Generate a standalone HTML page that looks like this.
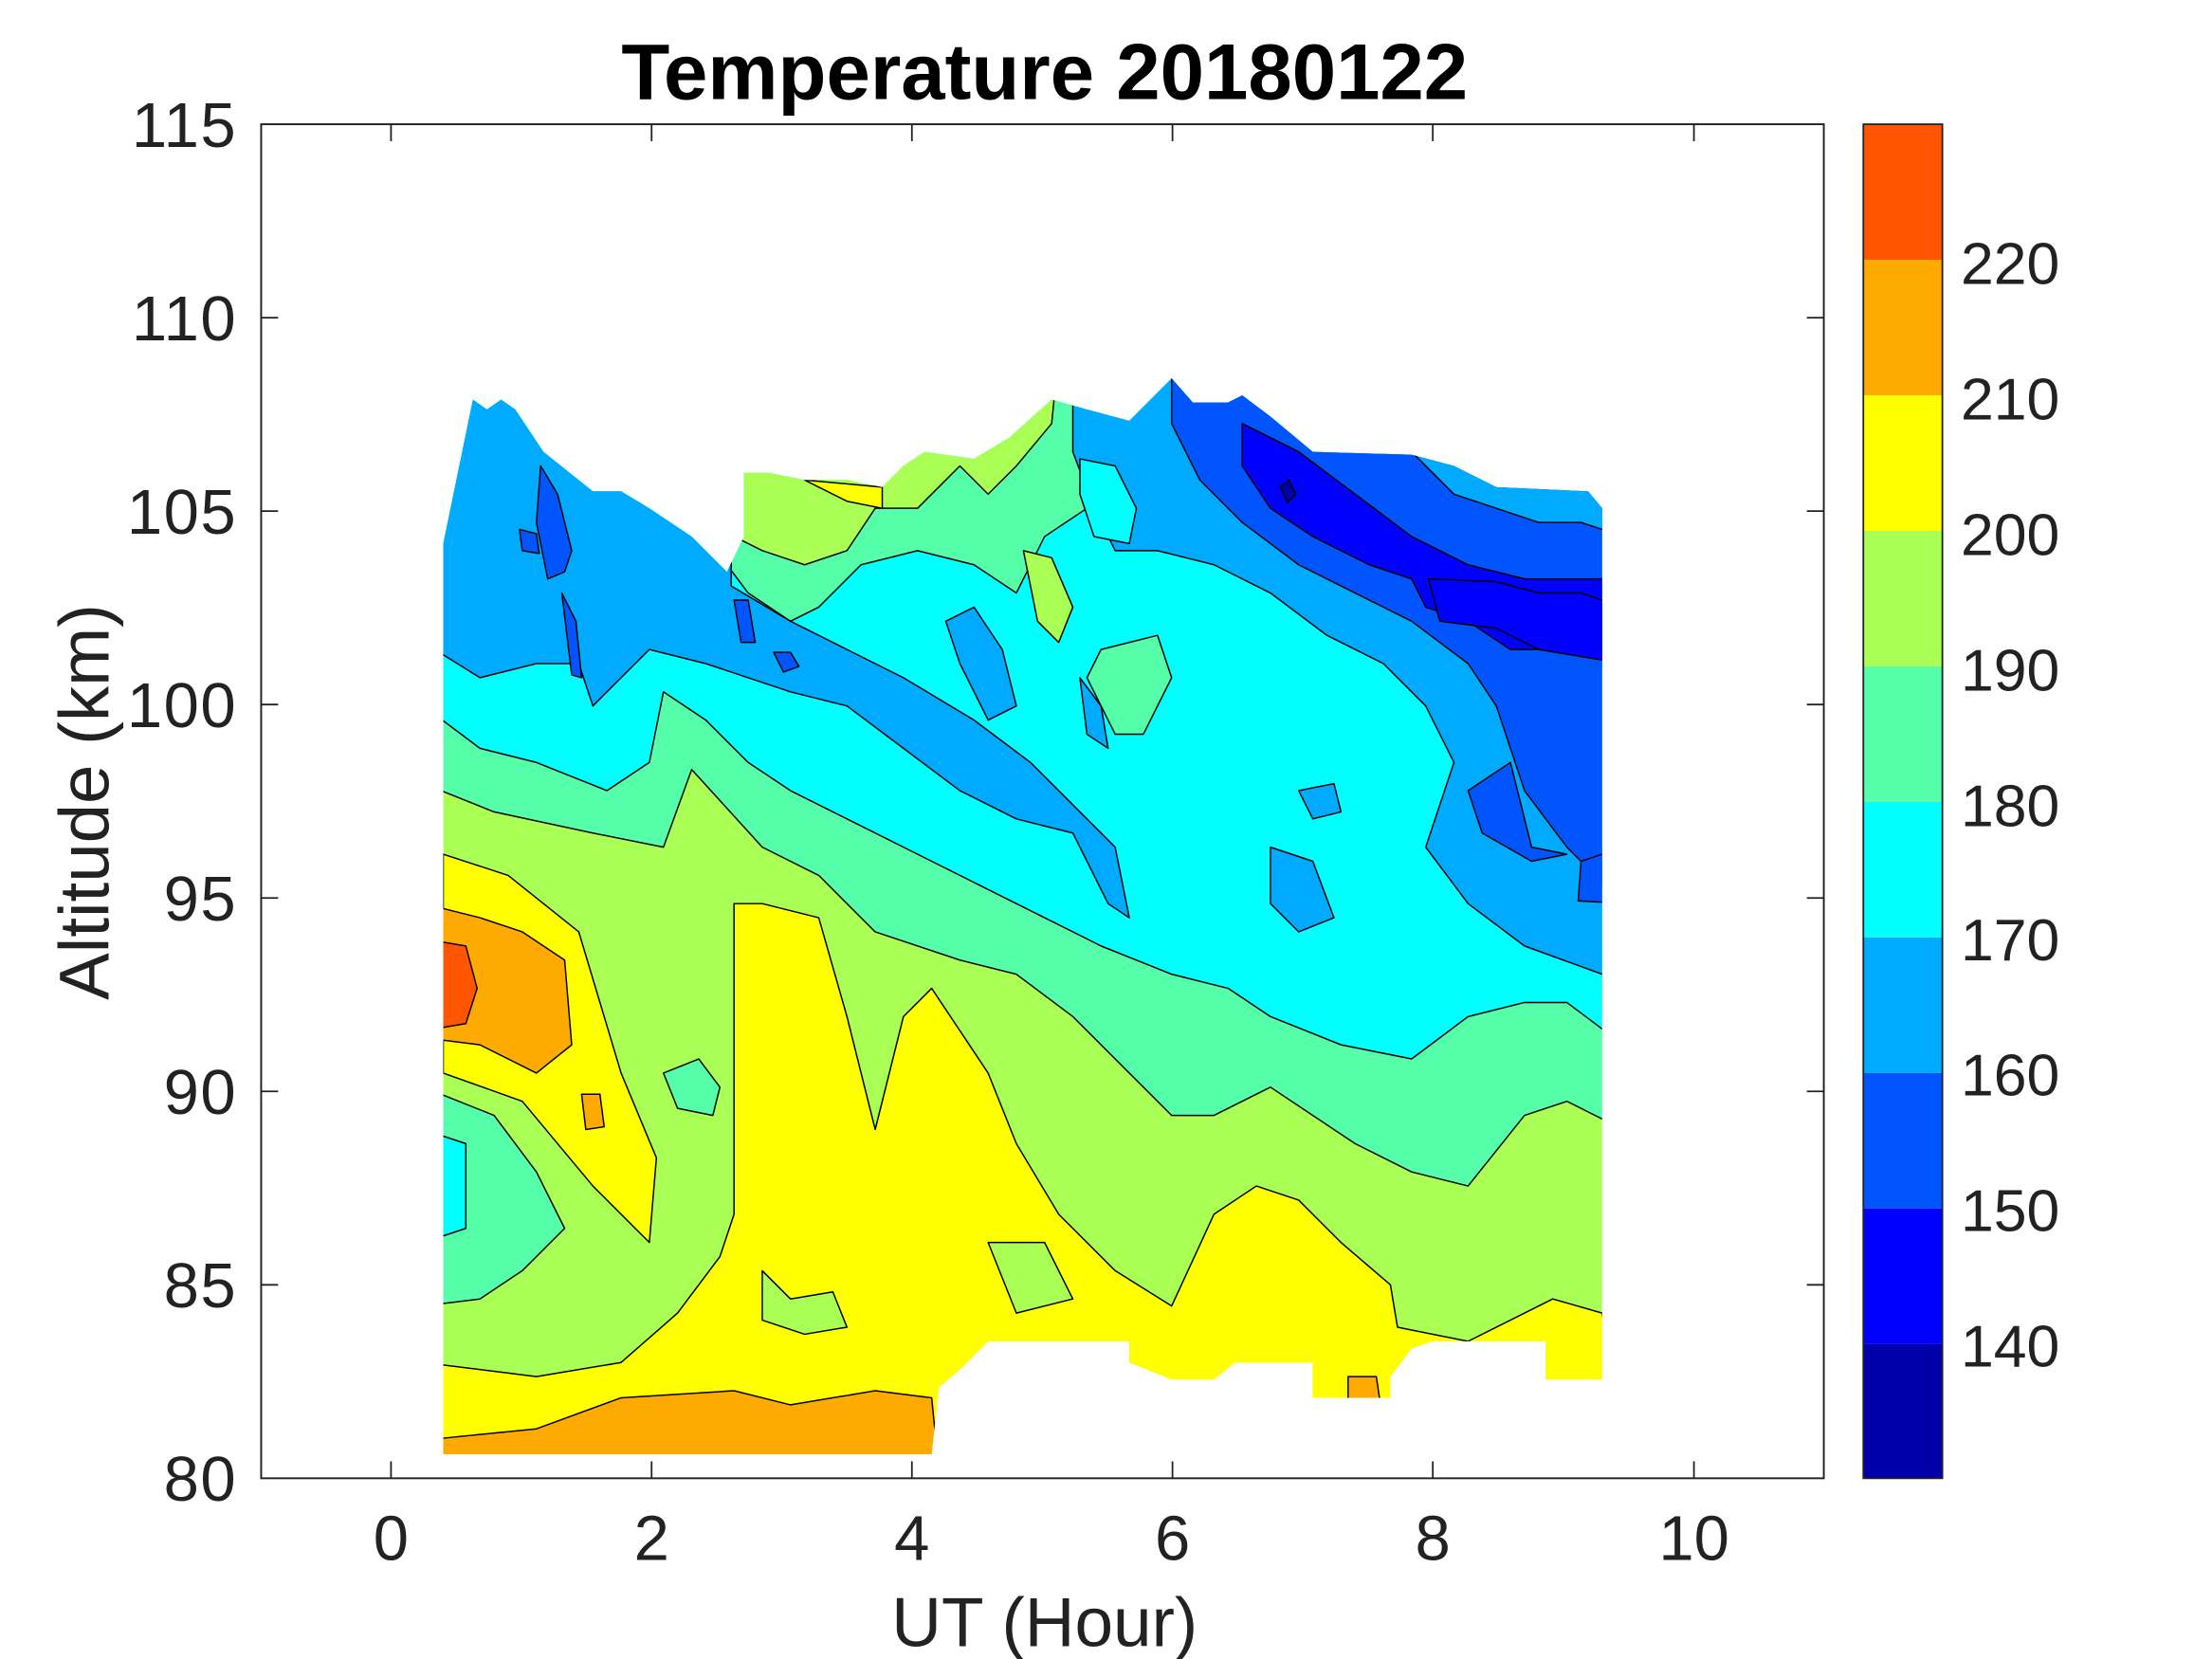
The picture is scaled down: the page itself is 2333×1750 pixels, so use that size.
<!DOCTYPE html>
<html><head><meta charset="utf-8"><style>
html,body{margin:0;padding:0;background:#fff;}
svg{display:block;}
text{font-family:"Liberation Sans",Arial,sans-serif;fill:#222;}
</style></head><body>
<svg width="2333" height="1750" viewBox="0 0 1567 1175" preserveAspectRatio="none" xmlns="http://www.w3.org/2000/svg">
<defs>
<clipPath id="dc"><polygon points="314,385 335,283 345,290 355,283 365,290 385,320 420,348 440,348 460,360 490,380 515,405 527,380 527,335 545,335 570,340 600,340 625,345 640,330 655,320 690,325 715,310 745,283 770,290 800,298 830,268 845,285 870,285 880,280 900,295 930,320 1000,322 1030,330 1060,345 1125,348 1135,360 1135,977 1095,977 1095,950 1015,950 1000,955 985,975 985,990 930,990 930,965 875,965 860,977 830,977 800,965 800,950 700,950 680,970 665,983 660,1030 314,1030"/></clipPath>
</defs>
<g clip-path="url(#dc)" stroke="#000" stroke-width="1" stroke-linejoin="round">
<rect x="300" y="250" width="850" height="800" fill="#AAFF55" stroke="none"/>
<polygon fill="#FFFF00" points="314,605 360,620 410,660 440,760 465,820 460,880 420,840 370,780 314,760"/>
<polygon fill="#FFFF00" points="300,965 380,975 440,965 480,930 510,890 520,860 520,640 540,640 580,650 600,720 620,800 640,720 660,700 680,730 700,760 720,810 750,860 790,900 830,925 860,860 890,840 920,850 950,880 985,910 990,940 1040,950 1100,920 1135,930 1150,1040 300,1040"/>
<polygon fill="#AAFF55" points="540,900 560,920 590,915 600,940 570,945 540,935"/>
<polygon fill="#AAFF55" points="700,880 740,880 760,920 720,930"/>
<polygon fill="#FFAA00" points="300,640 340,650 370,660 400,680 405,740 380,760 340,740 300,735"/>
<polygon fill="#FF5500" points="300,665 330,670 338,700 330,725 300,730"/>
<polygon fill="#FFAA00" points="300,1020 380,1012 440,990 520,985 560,995 620,985 660,990 665,1040 300,1040"/>
<polygon fill="#FFAA00" points="412,775 425,775 428,798 415,800"/>
<polygon fill="#FFAA00" points="955,975 975,975 978,995 955,995"/>
<polygon fill="#55FFAA" points="300,770 350,790 380,830 400,870 370,900 340,920 300,925"/>
<polygon fill="#00FFFF" points="300,800 330,810 330,870 300,880"/>
<polygon fill="#55FFAA" points="470,760 495,750 510,770 505,790 480,785"/>
<polygon fill="#55FFAA" points="300,555 350,575 420,590 470,600 490,545 540,600 580,620 620,660 680,680 720,690 760,720 800,760 830,790 860,790 900,770 930,790 960,810 1000,830 1040,840 1080,790 1110,780 1150,800 1150,250 300,250"/>
<polygon fill="#00FFFF" points="300,500 340,530 380,540 430,560 460,540 470,490 500,510 530,540 560,560 600,580 640,600 700,630 740,650 780,670 830,690 870,700 900,720 950,740 1000,750 1040,720 1080,710 1110,710 1150,740 1150,250 300,250"/>
<polygon fill="#55FFAA" points="515,250 765,250 770,360 740,380 720,420 690,400 650,390 610,400 580,430 560,440 530,420 515,400"/>
<polygon fill="#AAFF55" points="515,250 750,250 745,300 720,330 700,350 680,330 650,360 620,360 600,390 570,400 540,390 520,380"/>
<polygon fill="#FFFF00" points="570,340 625,345 625,360 600,355"/>
<polygon fill="#AAFF55" points="725,390 745,395 760,430 750,455 735,440"/>
<polygon fill="#55FFAA" points="780,460 820,450 830,480 810,520 790,520 770,480"/>
<polygon fill="#00AAFF" points="300,250 518,250 518,415 560,440 600,460 640,480 690,510 730,540 760,570 790,600 800,650 785,640 760,590 720,580 680,560 640,530 600,500 560,490 500,470 460,460 440,480 420,500 410,470 380,470 340,480 300,455"/>
<polygon fill="#00AAFF" points="670,440 690,430 710,460 720,500 700,510 680,470"/>
<polygon fill="#00AAFF" points="765,480 780,500 785,530 770,520"/>
<polygon fill="#00AAFF" points="760,250 1150,250 1150,685 1135,690 1080,670 1040,640 1010,600 1030,540 1010,500 980,470 940,450 900,420 860,400 820,390 790,390 775,360 760,320"/>
<polygon fill="#00FFFF" points="765,325 790,330 805,360 800,385 775,380 765,350"/>
<polygon fill="#00AAFF" points="900,600 930,610 945,650 920,660 900,640"/>
<polygon fill="#00AAFF" points="920,560 945,555 950,575 930,580"/>
<polygon fill="#0055FF" points="830,250 1150,250 1150,640 1110,600 1080,560 1060,500 1040,470 1000,440 960,420 920,400 880,370 850,340 830,300"/>
<polygon fill="#00AAFF" points="1000,320 1150,320 1150,380 1120,370 1090,370 1060,360 1030,350"/>
<polygon fill="#0055FF" points="1040,560 1070,540 1085,600 1110,605 1085,610 1050,590"/>
<polygon fill="#0055FF" points="1120,610 1150,600 1150,640 1118,638"/>
<polygon fill="#0055FF" points="383,330 395,350 405,390 400,405 388,410 380,370"/>
<polygon fill="#0055FF" points="398,420 408,440 412,480 405,478"/>
<polygon fill="#0055FF" points="368,375 380,378 382,392 370,390"/>
<polygon fill="#0055FF" points="520,425 530,425 535,455 525,455"/>
<polygon fill="#0055FF" points="548,462 560,462 566,472 555,476"/>
<polygon fill="#0000FF" points="880,300 920,320 960,350 1000,380 1040,400 1080,410 1150,410 1150,470 1100,460 1070,460 1040,440 1010,430 1000,410 970,400 930,380 900,360 880,330"/>
<polygon fill="#0000FF" points="1012,410 1060,412 1090,420 1120,420 1150,430 1150,470 1120,465 1090,460 1060,445 1020,440"/>
<polygon fill="#0000AA" points="907,345 913,340 918,350 912,356"/>
</g>
<rect x="185" y="88" width="1107" height="959" fill="none" stroke="#222" stroke-width="1.3"/>
<g stroke="#222" stroke-width="1.2">
<line x1="277" y1="1047" x2="277" y2="1035"/><line x1="461.6" y1="1047" x2="461.6" y2="1035"/><line x1="646" y1="1047" x2="646" y2="1035"/><line x1="830.6" y1="1047" x2="830.6" y2="1035"/><line x1="1015" y1="1047" x2="1015" y2="1035"/><line x1="1200" y1="1047" x2="1200" y2="1035"/>
<line x1="277" y1="88" x2="277" y2="100"/><line x1="461.6" y1="88" x2="461.6" y2="100"/><line x1="646" y1="88" x2="646" y2="100"/><line x1="830.6" y1="88" x2="830.6" y2="100"/><line x1="1015" y1="88" x2="1015" y2="100"/><line x1="1200" y1="88" x2="1200" y2="100"/>
<line x1="185" y1="910" x2="197" y2="910"/><line x1="185" y1="773" x2="197" y2="773"/><line x1="185" y1="636" x2="197" y2="636"/><line x1="185" y1="499" x2="197" y2="499"/><line x1="185" y1="362" x2="197" y2="362"/><line x1="185" y1="225" x2="197" y2="225"/>
<line x1="1292" y1="910" x2="1280" y2="910"/><line x1="1292" y1="773" x2="1280" y2="773"/><line x1="1292" y1="636" x2="1280" y2="636"/><line x1="1292" y1="499" x2="1280" y2="499"/><line x1="1292" y1="362" x2="1280" y2="362"/><line x1="1292" y1="225" x2="1280" y2="225"/>
</g>
<g font-size="45" text-anchor="end" letter-spacing="1">
<text x="168" y="1063">80</text><text x="168" y="926">85</text><text x="168" y="789">90</text><text x="168" y="652">95</text><text x="168" y="515">100</text><text x="168" y="378">105</text><text x="168" y="241">110</text><text x="168" y="104">115</text>
</g>
<g font-size="45" text-anchor="middle">
<text x="277" y="1105">0</text><text x="461.6" y="1105">2</text><text x="646" y="1105">4</text><text x="830.6" y="1105">6</text><text x="1015" y="1105">8</text><text x="1200" y="1105">10</text>
</g>
<text x="740" y="1166" font-size="49" text-anchor="middle">UT (Hour)</text>
<text x="0" y="0" font-size="50" text-anchor="middle" transform="translate(77,568) rotate(-90)">Altitude (km)</text>
<text x="740" y="70" font-size="56" font-weight="bold" text-anchor="middle" style="fill:#000">Temperature 20180122</text>
<g stroke="none">
<rect x="1320" y="88" width="56" height="96" fill="#FF5500"/>
<rect x="1320" y="184" width="56" height="96" fill="#FFAA00"/>
<rect x="1320" y="280" width="56" height="96" fill="#FFFF00"/>
<rect x="1320" y="376" width="56" height="96" fill="#AAFF55"/>
<rect x="1320" y="472" width="56" height="96" fill="#55FFAA"/>
<rect x="1320" y="568" width="56" height="96" fill="#00FFFF"/>
<rect x="1320" y="664" width="56" height="96" fill="#00AAFF"/>
<rect x="1320" y="760" width="56" height="96" fill="#0055FF"/>
<rect x="1320" y="856" width="56" height="96" fill="#0000FF"/>
<rect x="1320" y="952" width="56" height="95" fill="#0000AA"/>
</g>
<rect x="1320" y="88" width="56" height="959" fill="none" stroke="#222" stroke-width="1.2"/>
<g font-size="42" text-anchor="start">
<text x="1389" y="201">220</text><text x="1389" y="297">210</text><text x="1389" y="393">200</text><text x="1389" y="489">190</text><text x="1389" y="585">180</text><text x="1389" y="680">170</text><text x="1389" y="776">160</text><text x="1389" y="872">150</text><text x="1389" y="968">140</text>
</g>
</svg>
</body></html>
